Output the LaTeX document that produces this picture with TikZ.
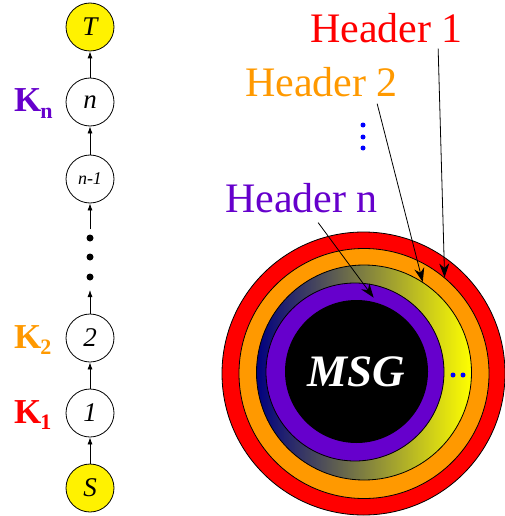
\documentclass[tikz,border=0pt]{standalone}
\usepackage{fontspec}
\setmainfont{Liberation Serif}
\usepackage{xcolor}
\usepackage{tikz}
\usetikzlibrary{arrows.meta}

\definecolor{hdrred}{HTML}{FF0000}
\definecolor{hdrorange}{HTML}{FF9900}
\definecolor{hdrpurple}{HTML}{6600CC}
\definecolor{deepnavy}{HTML}{000080}

\begin{document}
\begin{tikzpicture}[x=1pt,y=-1pt]
\tikzstyle{hop}=[circle,draw,line width=0.8pt,minimum size=48pt,inner sep=0pt,font=\fontsize{27}{27}\selectfont\itshape]
\tikzstyle{endpoint}=[hop,fill=yellow]
\tikzstyle{dot}=[circle,fill,inner sep=0pt,minimum size=7pt]
\tikzstyle{bluedot}=[circle,fill=blue,inner sep=0pt,minimum size=5pt]
\tikzstyle{key}=[anchor=base west,inner sep=0pt,font=\fontsize{35}{35}\selectfont\bfseries]
\tikzstyle{hdr}=[anchor=base west,inner sep=0pt,font=\fontsize{42}{42}\selectfont]
\tikzstyle{ring}=[circle,draw,line width=0.8pt,inner sep=0pt]
\tikzstyle{hoparrow}=[-{Latex[length=7pt,width=5pt]},line width=0.8pt]
\tikzstyle{hdrarrow}=[-{Stealth[length=14pt,width=10pt]},line width=0.8pt]
\newcommand{\keysub}[1]{K\kern-1pt\raisebox{-6pt}{\fontsize{22}{22}\selectfont #1}}

\useasboundingbox (0,0) rectangle (505,516);

% Route
\node[endpoint] (s) at (90,488) {S};
\node[hop] (k1) at (90,413) {1};
\node[hop] (k2) at (90,338) {2};
\node[dot] (d1) at (90,277) {};
\node[dot] (d2) at (90,257) {};
\node[dot] (d3) at (90,238) {};
\node[hop,font=\fontsize{18}{18}\selectfont\itshape] (kn1) at (90,179) {n-1};
\node[hop] (kn) at (90,102) {n};
\node[endpoint] (t) at (90,27) {T};
\coordinate (gaplow) at (90,290);
\coordinate (gaphigh) at (90,229);

\draw[hoparrow] (s) -- (k1);
\draw[hoparrow] (k1) -- (k2);
\draw[hoparrow] (k2) -- (gaplow);
\draw[hoparrow] (gaphigh) -- (kn1);
\draw[hoparrow] (kn1) -- (kn);
\draw[hoparrow] (kn) -- (t);

% Keys
\node[key,text=hdrred] (key1) at (14,423) {\keysub{1}};
\node[key,text=hdrorange] (key2) at (14,348) {\keysub{2}};
\node[key,text=hdrpurple] (keyn) at (14,112) {\keysub{n}};

% Onion
\node[ring,fill=hdrred,minimum size=283pt] (ring1) at (363.5,373.5) {};
\node[ring,fill=hdrorange,minimum size=250pt] (ring2) at (364,373.5) {};
\node[ring,left color=deepnavy,right color=yellow,minimum size=215pt] (ring3) at (364,372.5) {};
\node[ring,fill=hdrpurple,minimum size=178pt] (ringn) at (355,372) {};
\node[circle,fill=black,inner sep=0pt,minimum size=143pt,text=white,
  font=\fontsize{45}{45}\selectfont\bfseries\itshape] (core) at (356.5,371.5) {MSG};
\node[bluedot] (e1) at (453,375) {};
\node[bluedot] (e2) at (463,375) {};

% Headers
\node[hdr,text=hdrred] (h1) at (310,43) {Header 1};
\node[hdr,text=hdrorange] (h2) at (245,97) {Header 2};
\node[hdr,text=hdrpurple] (hn) at (225,212) {Header n};
\node[bluedot] (v1) at (363,125) {};
\node[bluedot] (v2) at (363,137) {};
\node[bluedot] (v3) at (363,148) {};

\draw[hdrarrow] ([xshift=-25pt,yshift=-5pt]h1.south east) -- (ring2.50);
\draw[hdrarrow] ([xshift=-21pt,yshift=-6pt]h2.south east) -- (ring3.57);
\draw[hdrarrow] ([xshift=-60pt,yshift=-10pt]hn.south east) -- ([shift={(1pt,4pt)}]core.77);

\end{tikzpicture}
\end{document}
